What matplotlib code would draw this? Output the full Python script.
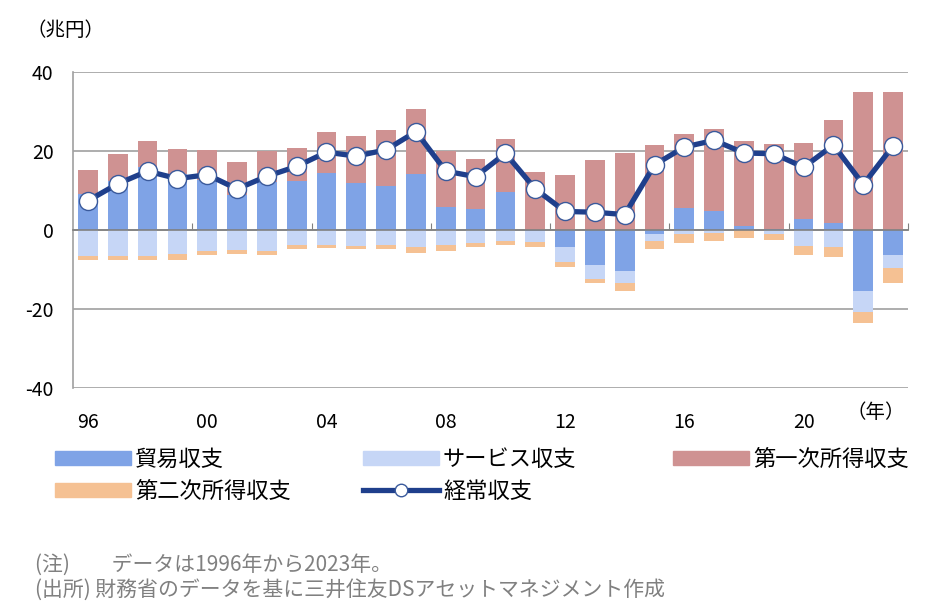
import numpy as np
import matplotlib
matplotlib.use("Agg")
import matplotlib.pyplot as plt
from matplotlib.patches import Patch
from matplotlib.lines import Line2D

plt.rcParams['font.family'] = ['Noto Sans CJK JP', 'DejaVu Sans']

# data (兆円), 1996-2023
years = list(range(1996, 2024))
trade = [9.0, 12.3, 15.9, 14.1, 12.6, 8.8, 12.2, 12.5, 14.4, 11.8, 11.1, 14.2, 5.8, 5.3,
         9.5, -0.3, -4.3, -8.8, -10.5, -0.9, 5.5, 4.9, 1.1, 0.2, 2.8, 1.8, -15.4, -6.3]
services = [-6.7, -6.6, -6.5, -6.2, -5.2, -5.0, -5.2, -3.9, -3.8, -4.0, -3.7, -4.3, -3.9, -3.2,
            -2.7, -2.8, -3.8, -3.5, -3.0, -1.9, -1.1, -0.7, -0.1, -1.1, -4.0, -4.2, -5.3, -3.3]
primary = [6.2, 7.0, 6.6, 6.5, 7.6, 8.4, 7.8, 8.3, 10.3, 11.9, 14.3, 16.5, 14.3, 12.6,
           13.6, 14.6, 13.9, 17.6, 19.4, 21.4, 18.8, 20.6, 21.4, 21.6, 19.3, 26.0, 35.0, 34.9]
secondary = [-1.0, -1.1, -1.1, -1.4, -1.1, -1.0, -1.1, -0.8, -0.8, -0.8, -1.2, -1.4, -1.4, -1.2,
             -1.1, -1.1, -1.2, -1.0, -2.0, -2.0, -2.1, -2.2, -2.0, -1.4, -2.3, -2.6, -2.8, -3.8]
current = [7.4, 11.7, 14.9, 13.0, 14.0, 10.4, 13.6, 16.1, 19.7, 18.7, 20.3, 24.9, 14.9, 13.5,
           19.4, 10.4, 4.7, 4.5, 3.9, 16.5, 21.0, 22.7, 19.5, 19.3, 15.9, 21.5, 11.5, 21.3]
year_labels = ["96", "00", "04", "08", "12", "16", "20"]

names = ["貿易収支", "サービス収支", "第一次所得収支", "第二次所得収支"]
colors = ["#7fa3e6", "#c6d6f6", "#cf9292", "#f5c193"]
line_color = "#1f3f8c"

fig = plt.figure(figsize=(9.26, 6.14), dpi=100)
ax = fig.add_axes([73/926, 1-388/614, 835/926, 316/614])

x = np.arange(len(years))
pos = np.zeros(len(years))
neg = np.zeros(len(years))
for vals, c in zip([trade, services, primary, secondary], colors):
    v = np.array(vals)
    bottom = np.where(v >= 0, pos, neg)
    ax.bar(x, v, bottom=bottom, width=0.66, color=c, zorder=2)
    pos = pos + np.where(v >= 0, v, 0)
    neg = neg + np.where(v < 0, v, 0)

ax.plot(x, current, color=line_color, lw=3.8, marker="o", ms=13,
        mfc="white", mec="#3a5a9c", mew=1.0, zorder=4)

ax.set_xlim(-0.5, len(years) - 0.5)
ax.set_ylim(-40, 40)
ax.set_yticks([-40, -20, 0, 20, 40])
ax.set_yticklabels(["-40", "-20", "0", "20", "40"], fontsize=14)
ax.tick_params(axis="y", length=0, pad=14)
ax.yaxis.grid(True, color="#a0a0a0", lw=1.2, zorder=0)
ax.set_axisbelow(True)

for s in ["top", "right"]:
    ax.spines[s].set_visible(False)
ax.spines["left"].set_color("#a0a0a0")
ax.spines["left"].set_linewidth(1.2)
ax.spines["bottom"].set_position(("data", 0))
ax.spines["bottom"].set_color("#808080")
ax.spines["bottom"].set_linewidth(1.2)
ax.spines["bottom"].set_zorder(3)
ax.set_xticks(np.arange(3.5, len(years), 4))
ax.set_xticklabels([])
ax.tick_params(axis="x", direction="in", length=5, color="#808080")

sec = ax.secondary_xaxis(0)
sec.set_xticks(np.arange(0, len(years), 4))
sec.set_xticklabels(year_labels, fontsize=14)
sec.tick_params(length=0, pad=17)
sec.spines["bottom"].set_visible(False)

fig.text(26/926, 1-30/614, "（兆円）", fontsize=14, ha="left", va="center")
fig.text(846/926, 1-412/614, "（年）", fontsize=14, ha="left", va="center")

# legend
h = [Patch(color=c) for c in colors]
hl = Line2D([], [], color=line_color, lw=3.8, marker="o", ms=9, mfc="white", mec="#3a5a9c")
cols = [(55, [h[0], h[3]], [names[0], names[3]]),
        (363, [h[1], hl], [names[1], "経常収支"]),
        (673, [h[2]], [names[2]])]
for xp, hs, ls in cols:
    fig.legend(hs, ls, loc="upper left", bbox_to_anchor=(xp/926, 1-448/614),
               frameon=False, fontsize=16, handlelength=3.4, handleheight=0.6,
               handletextpad=0.2, labelspacing=0.4, borderpad=0, borderaxespad=0)

fig.text(35/926, 1-565/614, "(注)　　データは1996年から2023年。", fontsize=15,
         color="#808080", ha="left", va="center")
fig.text(35/926, 1-590/614, "(出所) 財務省のデータを基に三井住友DSアセットマネジメント作成", fontsize=15,
         color="#808080", ha="left", va="center")

fig.savefig("out.png", dpi=100)
